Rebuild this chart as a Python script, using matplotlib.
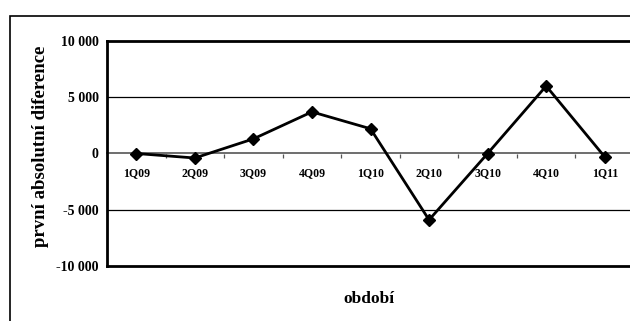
import matplotlib.pyplot as plt
from matplotlib.patches import Rectangle
from matplotlib.ticker import FixedLocator, FuncFormatter

# quarterly first differences
quarters = ["1Q09", "2Q09", "3Q09", "4Q09", "1Q10", "2Q10", "3Q10", "4Q10", "1Q11"]
diffs = [0, -400, 1300, 3700, 2200, -5900, 0, 6000, -300]
yticks = [-10000, -5000, 0, 5000, 10000]

plt.rcParams['font.family'] = ['Liberation Serif', 'DejaVu Serif']

fig = plt.figure(figsize=(6.3, 3.21), dpi=100)

# outer chart frame (right and bottom run past the edge)
fig.patches.append(Rectangle((10 / 630, -0.2), 1.2, 1.2 - 16 / 321,
                             transform=fig.transFigure, fill=False,
                             edgecolor='black', linewidth=1.2))

ax = fig.add_axes([107 / 630, 55 / 321, 527 / 630, 225 / 321])
x = list(range(len(quarters)))
ax.plot(x, diffs, color='black', linewidth=2, marker='D', markersize=6,
        clip_on=False, zorder=3)

ax.set_xlim(-0.5, len(quarters) - 0.5)
ax.set_ylim(-10000, 10000)
ax.set_yticks(yticks)
ax.yaxis.set_major_formatter(FuncFormatter(lambda v, p: f"{int(v):,}".replace(",", " ")))
ax.tick_params(axis='y', length=0, pad=6, labelsize=10)
for lab in ax.get_yticklabels():
    lab.set_fontweight('bold')

for v in [5000, -5000]:
    ax.axhline(v, color='black', linewidth=0.9, zorder=1)

ax.set_xticks([])
for s in ax.spines.values():
    s.set_linewidth(2)
ax.spines['right'].set_visible(False)

# category labels sit along the zero line
sec = ax.secondary_xaxis(0.5)
sec.xaxis.set_ticks_position('bottom')
sec.xaxis.set_label_position('bottom')
sec.set_xticks(x)
sec.set_xticklabels(quarters, fontsize=8.5, fontweight='bold')
sec.xaxis.set_minor_locator(FixedLocator([i + 0.5 for i in x[:-1]]))
sec.tick_params(axis='x', which='major', length=0, pad=10)
sec.tick_params(axis='x', which='minor', length=3, width=0.9, color='#555555', direction='out')
for side in ['top', 'bottom']:
    sec.spines[side].set_color('#555555')
    sec.spines[side].set_linewidth(1.2)

ax.set_ylabel("první absolutní diference", fontsize=13.5, fontweight='bold')
ax.yaxis.set_label_coords(-0.11, 0.53)
fig.text(369 / 630, 1 - 299 / 321, "období", ha='center', va='center',
         fontsize=12.5, fontweight='bold')

fig.savefig("out.png", dpi=100)
